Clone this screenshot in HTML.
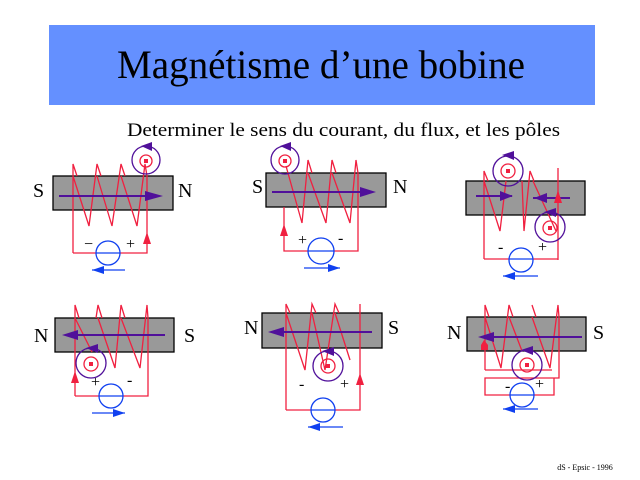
<!DOCTYPE html>
<html><head><meta charset="utf-8"><style>
body{margin:0;background:#fff}
svg{display:block}
text{font-family:"Liberation Serif",serif}
</style></head><body>
<svg width="640" height="480" viewBox="0 0 640 480" xmlns="http://www.w3.org/2000/svg">
<rect x="49" y="25" width="546" height="80" fill="#6490ff"/>
<text x="117" y="78" font-size="40" textLength="408" lengthAdjust="spacingAndGlyphs">Magnétisme d’une bobine</text>
<text x="127" y="136" font-size="19" textLength="433" lengthAdjust="spacingAndGlyphs">Determiner le sens du courant, du flux, et les pôles</text>
<text x="585" y="470" font-size="8" text-anchor="middle">dS - Epsic - 1996</text>

<g fill="none" stroke-width="1.3">
<!-- Panel 1 -->
<rect x="53" y="176" width="120" height="34" fill="#999" stroke="#000"/>
<path d="M73,253 L73,164 L77,176 M73,176 L89,226 L97,164 L101,176 M97,176 L112,226 L121,164 L125,176 M121,176 L137,226 L145,164 L147,176 L147,253 L73,253" stroke="#f02040"/>
<line x1="59" y1="196" x2="158" y2="196" stroke="#50109a" stroke-width="2"/>
<polygon points="145,191 163,196 145,201" fill="#50109a"/>
<circle cx="146" cy="160" r="14" stroke="#50109a"/>
<circle cx="146" cy="161" r="6" stroke="#f02040"/>
<rect x="144" y="159" width="4" height="4" fill="#f02040"/>
<polygon points="141,146 152,142 152,151" fill="#50109a"/>
<polygon points="143,244 147,232 151,244" fill="#f02040"/>
<circle cx="108" cy="253" r="12" stroke="#1040f0" fill="#fff"/>
<line x1="96" y1="253" x2="120" y2="253" stroke="#1040f0"/>
<line x1="92" y1="270" x2="125" y2="270" stroke="#1040f0"/>
<polygon points="92,270 104,266 104,274" fill="#1040f0"/>

<!-- Panel 2 -->
<rect x="266" y="173" width="120" height="34" fill="#999" stroke="#000"/>
<path d="M286,166 L302,223 L308,160 L312,173 M308,173 L326,223 L332,160 L336,173 M332,173 L350,223 L356,160 L358,173 L358,251 L284,251 L284,207" stroke="#f02040"/>
<line x1="272" y1="192" x2="370" y2="192" stroke="#50109a" stroke-width="2"/>
<polygon points="360,187 376,192 360,197" fill="#50109a"/>
<circle cx="285" cy="160" r="14" stroke="#50109a"/>
<circle cx="285" cy="161" r="6" stroke="#f02040"/>
<rect x="283" y="159" width="4" height="4" fill="#f02040"/>
<polygon points="280,146 291,142 291,151" fill="#50109a"/>
<polygon points="280,236 284,224 288,236" fill="#f02040"/>
<circle cx="321" cy="251" r="13" stroke="#1040f0" fill="#fff"/>
<line x1="308" y1="251" x2="334" y2="251" stroke="#1040f0"/>
<line x1="304" y1="268" x2="340" y2="268" stroke="#1040f0"/>
<polygon points="340,268 328,264 328,272" fill="#1040f0"/>

<!-- Panel 3 -->
<rect x="466" y="181" width="119" height="34" fill="#999" stroke="#000"/>
<path d="M484,259 L484,171 L488,181 M484,181 L500,231 L506,181 M522,181 L524,231 L530,171 L534,181 M533,181 L556,231 M558,260 L558,168 M484,259 L558,259" stroke="#f02040"/>
<line x1="476" y1="196" x2="512" y2="196" stroke="#50109a" stroke-width="2"/>
<polygon points="500,191 513,196 500,201" fill="#50109a"/>
<line x1="533" y1="198" x2="570" y2="198" stroke="#50109a" stroke-width="2"/>
<polygon points="547,193 534,198 547,203" fill="#50109a"/>
<polygon points="554,203 558,190 562,203" fill="#f02040"/>
<circle cx="508" cy="171" r="15" stroke="#50109a"/>
<circle cx="508" cy="171" r="7" stroke="#f02040"/>
<rect x="506" y="169" width="4" height="4" fill="#f02040"/>
<polygon points="502,155 514,151 514,160" fill="#50109a"/>
<circle cx="550" cy="227" r="15" stroke="#50109a"/>
<circle cx="550" cy="228" r="7" stroke="#f02040"/>
<rect x="548" y="226" width="4" height="4" fill="#f02040"/>
<polygon points="544,212 556,208 556,217" fill="#50109a"/>
<circle cx="521" cy="260" r="12" stroke="#1040f0" fill="#fff"/>
<line x1="509" y1="259" x2="533" y2="259" stroke="#1040f0"/>
<line x1="503" y1="276" x2="538" y2="276" stroke="#1040f0"/>
<polygon points="503,276 515,272 515,280" fill="#1040f0"/>

<!-- Panel 4 -->
<rect x="55" y="318" width="119" height="34" fill="#999" stroke="#000"/>
<path d="M75,396 L75,305 L79,318 M75,318 L92,352 M96,318 L98,305 L102,318 M98,318 L115,368 L121,305 L125,318 M121,318 L140,368 L147,305 L148,318 L148,396 L75,396" stroke="#f02040"/>
<line x1="165" y1="335" x2="68" y2="335" stroke="#50109a" stroke-width="2"/>
<polygon points="78,330 62,335 78,340" fill="#50109a"/>
<circle cx="91" cy="363" r="15" stroke="#50109a"/>
<circle cx="91" cy="364" r="7" stroke="#f02040"/>
<rect x="89" y="362" width="4" height="4" fill="#f02040"/>
<polygon points="86,348 98,344 98,353" fill="#50109a"/>
<polygon points="71,383 75,371 79,383" fill="#f02040"/>
<circle cx="111" cy="396" r="12" stroke="#1040f0" fill="#fff"/>
<line x1="99" y1="396" x2="123" y2="396" stroke="#1040f0"/>
<line x1="92" y1="413" x2="125" y2="413" stroke="#1040f0"/>
<polygon points="125,413 113,409 113,417" fill="#1040f0"/>

<!-- Panel 5 -->
<rect x="262" y="313" width="120" height="35" fill="#999" stroke="#000"/>
<path d="M286,410 L286,304 L290,313 M286,313 L305,370 L312,304 L316,313 M312,313 L325,370 L335,304 L339,313 M335,313 L350,360 M360,304 L360,410 L286,410" stroke="#f02040"/>
<line x1="372" y1="332" x2="274" y2="332" stroke="#50109a" stroke-width="2"/>
<polygon points="284,327 268,332 284,337" fill="#50109a"/>
<circle cx="328" cy="366" r="15" stroke="#50109a"/>
<circle cx="328" cy="366" r="7" stroke="#f02040"/>
<rect x="326" y="364" width="4" height="4" fill="#f02040"/>
<polygon points="322,351 334,347 334,356" fill="#50109a"/>
<polygon points="356,385 360,373 364,385" fill="#f02040"/>
<circle cx="323" cy="410" r="12" stroke="#1040f0" fill="#fff"/>
<line x1="311" y1="410" x2="335" y2="410" stroke="#1040f0"/>
<line x1="308" y1="427" x2="343" y2="427" stroke="#1040f0"/>
<polygon points="308,427 320,423 320,431" fill="#1040f0"/>

<!-- Panel 6 -->
<rect x="467" y="317" width="119" height="34" fill="#999" stroke="#000"/>
<path d="M485,370 L485,305 L489,317 M485,317 L501,368 L509,305 L513,317 M509,317 L522,351 M532,305 L536,317 M532,317 L550,368 L558,305 L559,317 L559,378 L485,378 L485,395 L554,395 L554,378 M485,370 L552,370" stroke="#f02040"/>
<line x1="582" y1="337" x2="484" y2="337" stroke="#50109a" stroke-width="2"/>
<polygon points="494,332 478,337 494,342" fill="#50109a"/>
<polygon points="481,345 484,340 488,345 488,350 481,350" fill="#f02040"/>
<circle cx="527" cy="365" r="15" stroke="#50109a"/>
<circle cx="527" cy="365" r="7" stroke="#f02040"/>
<rect x="525" y="363" width="4" height="4" fill="#f02040"/>
<polygon points="521,350 533,346 533,355" fill="#50109a"/>
<circle cx="522" cy="395" r="12" stroke="#1040f0" fill="#fff"/>
<line x1="510" y1="395" x2="534" y2="395" stroke="#1040f0"/>
<line x1="503" y1="409" x2="538" y2="409" stroke="#1040f0"/>
<polygon points="503,409 515,405 515,413" fill="#1040f0"/>
</g>

<g font-size="20" fill="#000">
<text x="33" y="197">S</text><text x="178" y="197">N</text>
<text x="252" y="193">S</text><text x="393" y="193">N</text>
<text x="34" y="342">N</text><text x="184" y="342">S</text>
<text x="244" y="334">N</text><text x="388" y="334">S</text>
<text x="447" y="339">N</text><text x="593" y="339">S</text>
</g>
<g font-size="16" fill="#000">
<text x="84" y="249">−</text><text x="126" y="249">+</text>
<text x="298" y="245">+</text><text x="338" y="243">-</text>
<text x="498" y="252">-</text><text x="538" y="252">+</text>
<text x="91" y="387">+</text><text x="127" y="385">-</text>
<text x="299" y="389">-</text><text x="340" y="389">+</text>
<text x="505" y="391">-</text><text x="535" y="389">+</text>
</g>
</svg>
</body></html>
